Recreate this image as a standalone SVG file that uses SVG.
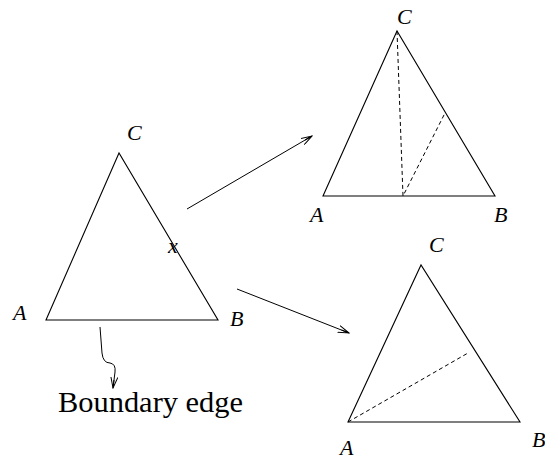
<svg xmlns="http://www.w3.org/2000/svg" width="545" height="459" viewBox="0 0 545 459">
<defs>
<style>
.tri{fill:none;stroke:#000;stroke-width:1.1;stroke-linejoin:miter}
.dash{fill:none;stroke:#000;stroke-width:1;stroke-dasharray:4,3}
.conn{fill:none;stroke:#000;stroke-width:1}
</style>
<marker id="ah" viewBox="0 0 12 8" refX="11" refY="4" markerWidth="12" markerHeight="8" markerUnits="userSpaceOnUse" orient="auto">
<path d="M0,0.5 L11,4 L0,7.5 M3,4 L11,4" fill="none" stroke="#000" stroke-width="1"/>
</marker>
</defs>
<rect width="545" height="459" fill="#fff"/>
<g font-family="Liberation Serif, DejaVu Serif, serif" font-style="italic" font-size="22" fill="#000">
<g id="left-triangle">
<polygon class="tri" points="46,320 218,320 119,153"/>
<text x="127" y="140">C</text>
<text x="13" y="320">A</text>
<text x="230" y="326">B</text>
<text x="168" y="253">x</text>
</g>
<g id="top-right-triangle">
<polygon class="tri" points="323,196 495,196 397,31"/>
<path class="dash" d="M397,31 L403,196 L445,113"/>
<text x="397" y="24">C</text>
<text x="310" y="222">A</text>
<text x="494" y="222">B</text>
</g>
<g id="bottom-right-triangle">
<polygon class="tri" points="348,422 520,422 421,265"/>
<path class="dash" d="M348,422 L468,353"/>
<text x="429" y="252">C</text>
<text x="340" y="455">A</text>
<text x="532" y="447">B</text>
</g>
<g id="boundary-label">
<text x="58" y="412" font-style="normal" font-size="29" textLength="185" lengthAdjust="spacingAndGlyphs">Boundary edge</text>
</g>
</g>
<g id="connectors">
<line class="conn" x1="187" y1="209" x2="312" y2="136" marker-end="url(#ah)"/>
<line class="conn" x1="237" y1="289" x2="349" y2="333" marker-end="url(#ah)"/>
<path class="conn" d="M100,327 L102,353 Q103,363 110,363 Q116,364 115,372 L113,388" marker-end="url(#ah)"/>
</g>
</svg>
